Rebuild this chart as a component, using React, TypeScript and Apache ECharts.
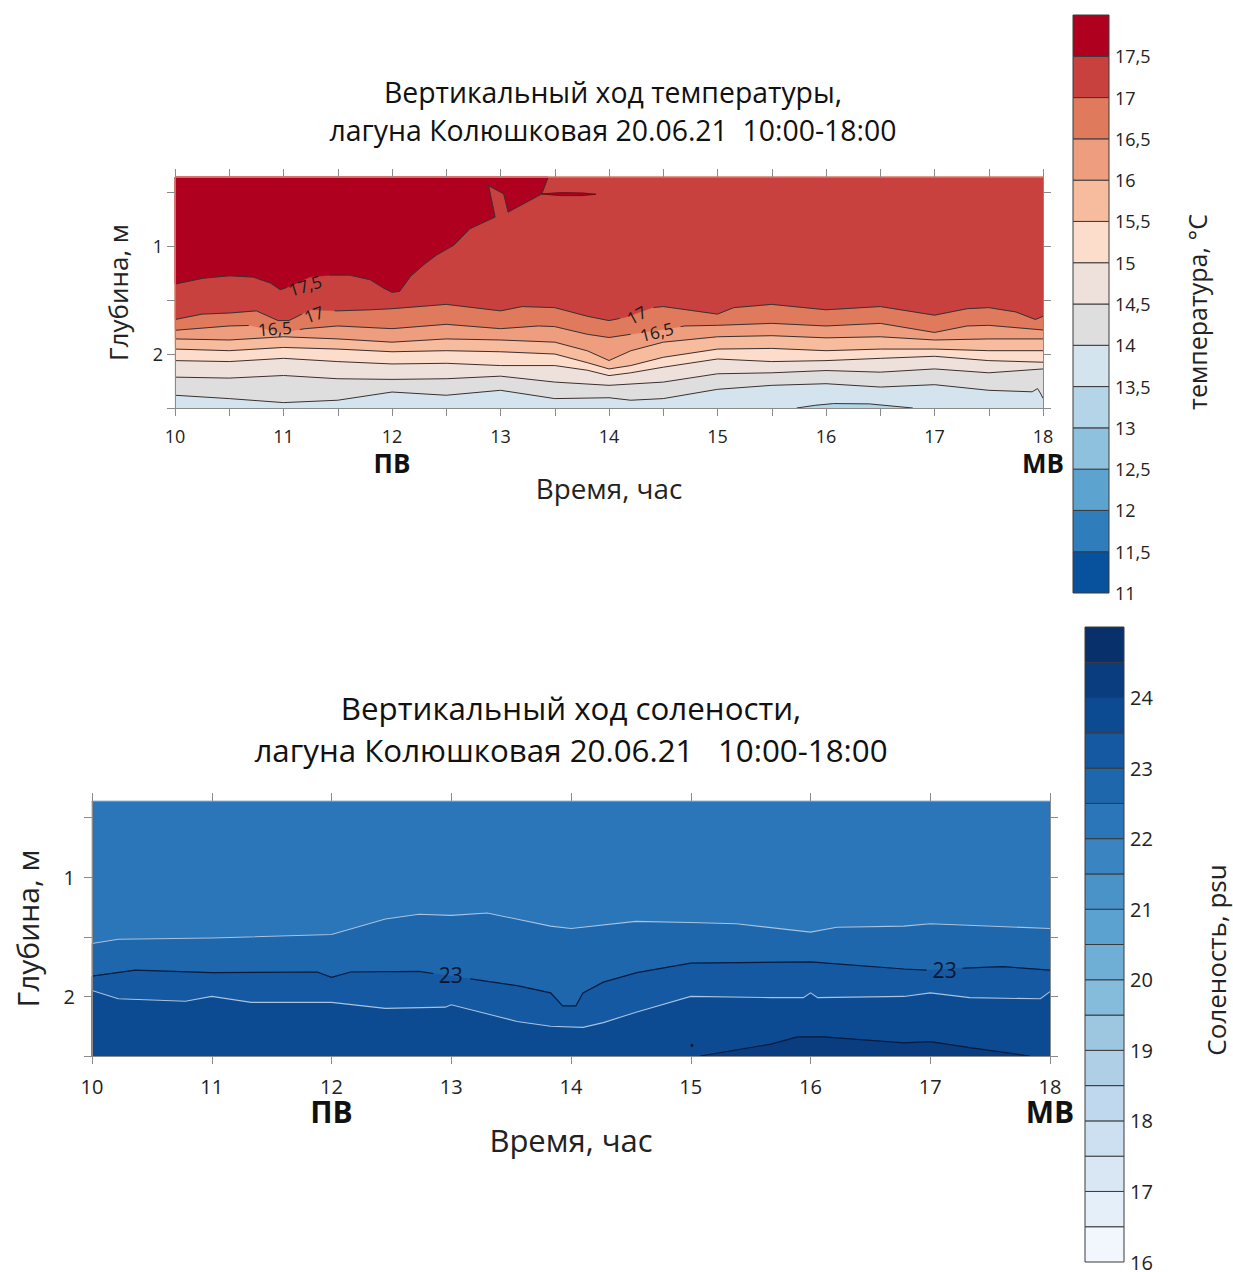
import React, { useEffect, useRef } from 'react';
import * as echarts from 'echarts';

const FONT = '"Open Sans", "Noto Sans", sans-serif';
const GRAY = '#8a8a8a';

// ---- axes values ----
const hourTicksHalf = [10, 10.5, 11, 11.5, 12, 12.5, 13, 13.5, 14, 14.5, 15, 15.5, 16, 16.5, 17, 17.5, 18];
const hourTicksWhole = [10, 11, 12, 13, 14, 15, 16, 17, 18];
const depthTicks = [0.5, 1, 1.5, 2, 2.5];
const depthLabels = [1, 2];
const tideMarks = [12, 18];
const tideNames = ['ПВ', 'МВ'];
const DEPTH_TOP = 0.36;
const DEPTH_BOTTOM = 2.5;

// ---- colour scales ----
const tempLevels = [11, 11.5, 12, 12.5, 13, 13.5, 14, 14.5, 15, 15.5, 16, 16.5, 17, 17.5, 18];
const tempColors = ['#08519C', '#2F7EBB', '#5CA3CF', '#8DC1DD', '#B4D5E8', '#D3E4EF', '#DEDEDE', '#EEE0DA', '#FCDCCA', '#F7BB9D', '#EE9D7F', '#DF7A5C', '#C8413F', '#B0001F'];
const tempBarLabels = [11, 11.5, 12, 12.5, 13, 13.5, 14, 14.5, 15, 15.5, 16, 16.5, 17, 17.5];
const salLevels = [16, 16.5, 17, 17.5, 18, 18.5, 19, 19.5, 20, 20.5, 21, 21.5, 22, 22.5, 23, 23.5, 24, 24.5, 25];
const salColors = ['#F2F7FD', '#E5EFF9', '#D9E7F5', '#CDE0F1', '#C0D8EE', '#AFCFE6', '#9DC7E1', '#85BCDB', '#6FAFD6', '#5CA2D0', '#4A93C9', '#3A85C1', '#2B76B8', '#1F67AD', '#1459A2', '#0C4B92', '#093D80', '#08306B'];
const salBarLabels = [16, 17, 18, 19, 20, 21, 22, 23, 24];

// ---- temperature isolines [hour, depth] ----
const t175 = [[10.0, 1.352], [10.26, 1.297], [10.5, 1.275], [10.72, 1.287], [10.88, 1.342], [10.97, 1.404], [11.06, 1.373], [11.24, 1.287], [11.43, 1.269], [11.61, 1.269], [11.8, 1.312], [11.92, 1.388], [12.0, 1.428], [12.07, 1.419], [12.17, 1.281], [12.29, 1.174], [12.41, 1.083], [12.57, 0.991], [12.72, 0.838], [12.95, 0.731], [12.89, 0.44], [13.03, 0.517], [13.07, 0.685], [13.38, 0.517], [13.44, 0.36]];
const t175Lens = [[13.38, 0.517], [13.55, 0.505], [13.75, 0.508], [13.88, 0.52], [13.75, 0.532], [13.55, 0.532]];
const t17 = [[10, 1.68], [10.25, 1.63], [10.5, 1.62], [10.75, 1.6], [10.95, 1.69], [11.05, 1.69], [11.25, 1.59], [11.5, 1.6], [11.8, 1.59], [12, 1.58], [12.5, 1.54], [13, 1.6], [13.2, 1.56], [13.5, 1.57], [13.8, 1.65], [14, 1.69], [14.15, 1.66], [14.4, 1.57], [14.5, 1.56], [15, 1.63], [15.15, 1.57], [15.5, 1.54], [16, 1.59], [16.5, 1.56], [17, 1.64], [17.3, 1.58], [17.5, 1.57], [17.75, 1.61], [17.93, 1.68], [18, 1.65]];
const t165 = [[10, 1.78], [10.5, 1.74], [10.7, 1.735], [10.97, 1.8], [11.2, 1.765], [11.5, 1.74], [12, 1.765], [12.5, 1.725], [13, 1.765], [13.35, 1.74], [13.5, 1.746], [13.8, 1.817], [14, 1.847], [14.2, 1.817], [14.7, 1.74], [15, 1.734], [15.5, 1.716], [16, 1.74], [16.5, 1.716], [17, 1.8], [17.3, 1.74], [17.5, 1.734], [18, 1.777]];
const t16 = [[10, 1.86], [10.5, 1.87], [11, 1.84], [11.5, 1.86], [12, 1.89], [12.5, 1.86], [13, 1.87], [13.5, 1.89], [13.8, 1.97], [14, 2.06], [14.2, 1.97], [14.5, 1.89], [15, 1.84], [15.5, 1.83], [16, 1.85], [16.5, 1.84], [17, 1.87], [17.5, 1.86], [18, 1.86]];
const t155 = [[10, 1.954], [10.5, 1.969], [11, 1.939], [11.5, 1.954], [12, 1.979], [12.5, 1.969], [13, 1.979], [13.5, 2.0], [13.8, 2.08], [14, 2.138], [14.2, 2.107], [14.5, 2.03], [15, 1.954], [15.5, 1.948], [16, 1.969], [16.5, 1.954], [17, 1.954], [17.5, 1.969], [18, 1.969]];
const t15 = [[10, 2.061], [10.5, 2.07], [11, 2.04], [11.5, 2.07], [12, 2.092], [12.5, 2.086], [13, 2.107], [13.5, 2.107], [13.8, 2.15], [14, 2.2], [14.2, 2.174], [14.5, 2.122], [15, 2.046], [15.5, 2.07], [16, 2.061], [16.5, 2.04], [17, 2.021], [17.5, 2.061], [18, 2.076]];
const t145 = [[10, 2.214], [10.5, 2.223], [11, 2.199], [11.5, 2.229], [12, 2.235], [12.5, 2.229], [13, 2.205], [13.5, 2.26], [14, 2.29], [14.5, 2.26], [15, 2.183], [15.5, 2.174], [16, 2.153], [16.5, 2.168], [17, 2.138], [17.5, 2.174], [18, 2.138]];
const t14 = [[10, 2.382], [10.5, 2.413], [11, 2.45], [11.5, 2.428], [12, 2.352], [12.5, 2.382], [13, 2.336], [13.5, 2.413], [14, 2.405], [14.2, 2.428], [14.5, 2.413], [15, 2.327], [15.5, 2.29], [16, 2.275], [16.5, 2.306], [17, 2.284], [17.5, 2.336], [17.9, 2.35], [17.95, 2.32], [17.98, 2.37], [18, 2.41]];
const t135 = [[15.73, 2.5], [15.9, 2.475], [16.07, 2.459], [16.4, 2.462], [16.8, 2.5]];

const t175Gaps = [[11.03, 11.42]];
const t17Gaps = [[11.17, 11.47], [14.1, 14.41]];
const t165Gaps = [[10.68, 11.15], [14.2, 14.66]];

// label: hour, depth, rotation (rad)
const tempLabelPos = [[11.2, 1.367, 0.3], [11.28, 1.633, 0.35], [10.92, 1.764, 0.08], [14.255, 1.639, 0.5], [14.44, 1.795, 0.25]];
const tempLabelText = ['17,5', '17', '16,5', '17', '16,5'];

// ---- salinity isolines ----
const s225 = [[10, 1.556], [10.22, 1.52], [11, 1.51], [12, 1.48], [12.45, 1.35], [12.73, 1.31], [13, 1.32], [13.3, 1.3], [13.83, 1.41], [14, 1.43], [14.54, 1.37], [15, 1.38], [15.38, 1.39], [16, 1.46], [16.22, 1.42], [16.78, 1.41], [17, 1.39], [18, 1.43]];
const s23 = [[10, 1.83], [10.36, 1.78], [11, 1.8], [11.88, 1.795], [12, 1.84], [12.16, 1.795], [12.73, 1.79], [13, 1.83], [13.55, 1.91], [13.83, 1.97], [13.93, 2.08], [14.04, 2.08], [14.1, 1.97], [14.27, 1.88], [14.55, 1.8], [15, 1.72], [16, 1.71], [16.78, 1.77], [17, 1.78], [17.33, 1.76], [17.61, 1.75], [18, 1.78]];
const s235 = [[10, 1.95], [10.22, 2.02], [10.78, 2.04], [11, 2.0], [11.33, 2.05], [12, 2.05], [12.45, 2.1], [12.95, 2.09], [13, 2.07], [13.55, 2.21], [13.83, 2.25], [14.1, 2.26], [14.27, 2.22], [14.55, 2.13], [15, 2.0], [15.67, 2.01], [15.94, 2.01], [16, 1.97], [16.06, 2.01], [16.78, 2.0], [17, 1.97], [17.33, 2.01], [17.92, 2.02], [18, 1.96]];
const s24 = [[15.08, 2.5], [15.67, 2.4], [15.89, 2.34], [16.11, 2.34], [16.78, 2.39], [17, 2.38], [17.33, 2.43], [17.83, 2.5]];
const s24Dot = [15.01, 2.41];
const s23Gaps = [[12.85, 13.16], [16.97, 17.27]];
const salLabelPos = [[12.995, 1.824, 0], [17.12, 1.782, 0]];
const salLabelText = ['23', '23'];

// ---- helpers ----
const bandAbove = (levels, colors, lvl) => colors[levels.indexOf(lvl)];
const bandBelow = (levels, colors, lvl) => colors[levels.indexOf(lvl) - 1];

function splitByGaps(pts, gaps) {
  const inGap = (x) => gaps.some(([a, b]) => x > a && x < b);
  const segs = [];
  let cur = [];
  for (let i = 0; i < pts.length - 1; i++) {
    const p = pts[i];
    const q = pts[i + 1];
    const ts = [0, 1];
    gaps.forEach(([a, b]) => {
      [a, b].forEach((c) => {
        if ((p[0] - c) * (q[0] - c) < 0) ts.push((c - p[0]) / (q[0] - p[0]));
      });
    });
    ts.sort((u, v) => u - v);
    const lerp = (t) => [p[0] + (q[0] - p[0]) * t, p[1] + (q[1] - p[1]) * t];
    for (let k = 0; k < ts.length - 1; k++) {
      const mid = lerp((ts[k] + ts[k + 1]) / 2);
      if (inGap(mid[0])) {
        if (cur.length > 1) segs.push(cur);
        cur = [];
      } else {
        if (cur.length === 0) cur.push(lerp(ts[k]));
        cur.push(lerp(ts[k + 1]));
      }
    }
  }
  if (cur.length > 1) segs.push(cur);
  return segs;
}

const top = (h) => [h, DEPTH_TOP];
const bot = (h) => [h, DEPTH_BOTTOM];

const tempFills = [
  { pts: [top(10), top(18), bot(18), bot(10)], fill: bandBelow(tempLevels, tempColors, 14) },
  { pts: t135, fill: bandBelow(tempLevels, tempColors, 13.5) },
  { pts: [top(10), ...t14, top(18)], fill: bandAbove(tempLevels, tempColors, 14) },
  { pts: [top(10), ...t145, top(18)], fill: bandAbove(tempLevels, tempColors, 14.5) },
  { pts: [top(10), ...t15, top(18)], fill: bandAbove(tempLevels, tempColors, 15) },
  { pts: [top(10), ...t155, top(18)], fill: bandAbove(tempLevels, tempColors, 15.5) },
  { pts: [top(10), ...t16, top(18)], fill: bandAbove(tempLevels, tempColors, 16) },
  { pts: [top(10), ...t165, top(18)], fill: bandAbove(tempLevels, tempColors, 16.5) },
  { pts: [top(10), ...t17, top(18)], fill: bandAbove(tempLevels, tempColors, 17) },
  { pts: [top(10), ...t175], fill: bandAbove(tempLevels, tempColors, 17.5) },
  { pts: t175Lens, fill: bandAbove(tempLevels, tempColors, 17.5) },
];
const TL = '#3a3030';
const tempLines = [
  { segs: [t135], color: TL, w: 1 },
  { segs: [t14], color: TL, w: 1 },
  { segs: [t145], color: TL, w: 1 },
  { segs: [t15], color: TL, w: 1 },
  { segs: [t155], color: TL, w: 1 },
  { segs: [t16], color: TL, w: 1 },
  { segs: splitByGaps(t165, t165Gaps), color: TL, w: 1 },
  { segs: splitByGaps(t17, t17Gaps), color: TL, w: 1 },
  { segs: splitByGaps(t175, t175Gaps), color: TL, w: 1 },
  { segs: [[...t175Lens, t175Lens[0]]], color: '#5a1010', w: 0.8 },
];

const salFills = [
  { pts: [top(10), top(18), bot(18), bot(10)], fill: bandBelow(salLevels, salColors, 22.5) },
  { pts: [bot(10), ...s225, bot(18)], fill: bandAbove(salLevels, salColors, 22.5) },
  { pts: [bot(10), ...s23, bot(18)], fill: bandAbove(salLevels, salColors, 23) },
  { pts: [bot(10), ...s235, bot(18)], fill: bandAbove(salLevels, salColors, 23.5) },
  { pts: s24, fill: bandAbove(salLevels, salColors, 24) },
];
const SL_LIGHT = '#a9c3e0';
const SL_DARK = '#081a3c';
const salLines = [
  { segs: [s225], color: SL_LIGHT, w: 1.1 },
  { segs: splitByGaps(s23, s23Gaps), color: SL_DARK, w: 1.2 },
  { segs: [s235], color: SL_LIGHT, w: 1.1 },
  { segs: [s24], color: SL_DARK, w: 1.2 },
];

function fillSeries(name, xi, yi, fills) {
  return {
    type: 'custom', name, xAxisIndex: xi, yAxisIndex: yi, z: 1, silent: true,
    data: fills.map(() => [14, 1.5]),
    renderItem: (params, api) => {
      const f = fills[params.dataIndex];
      return { type: 'polygon', shape: { points: f.pts.map((p) => api.coord(p)) }, style: { fill: f.fill, stroke: f.fill, lineWidth: 0.5 } };
    },
  };
}
function lineSeries(name, xi, yi, lines, extra?) {
  return {
    type: 'custom', name, xAxisIndex: xi, yAxisIndex: yi, z: 2, silent: true,
    data: lines.map(() => [14, 1.5]),
    renderItem: (params, api) => {
      const l = lines[params.dataIndex];
      const children = l.segs.map((s) => ({ type: 'polyline', shape: { points: s.map((p) => api.coord(p)) }, style: { stroke: l.color, lineWidth: l.w, fill: 'none' } }));
      if (extra && params.dataIndex === lines.length - 1) {
        const c = api.coord(extra);
        children.push({ type: 'circle', shape: { cx: c[0], cy: c[1], r: 1.6 }, style: { fill: SL_DARK } });
      }
      return { type: 'group', children };
    },
  };
}
function labelSeries(name, xi, yi, pos, texts, size, color) {
  return {
    type: 'custom', name, xAxisIndex: xi, yAxisIndex: yi, z: 3, silent: true,
    data: pos.map((p) => [p[0], p[1]]),
    renderItem: (params, api) => {
      const p = pos[params.dataIndex];
      const c = api.coord([p[0], p[1]]);
      return { type: 'text', x: c[0], y: c[1], rotation: p[2], style: { text: texts[params.dataIndex], fill: color, fontSize: size, fontFamily: FONT, align: 'center', verticalAlign: 'middle' } };
    },
  };
}
function barSeries(name, xi, yi, levels, colors) {
  return {
    type: 'custom', name, xAxisIndex: xi, yAxisIndex: yi, z: 2, silent: true,
    data: colors.map((_, i) => [0.5, levels[i]]),
    renderItem: (params, api) => {
      const i = params.dataIndex;
      const a = api.coord([0, levels[i + 1]]);
      const b = api.coord([1, levels[i]]);
      return { type: 'rect', shape: { x: a[0], y: a[1], width: b[0] - a[0], height: b[1] - a[1] }, style: { fill: colors[i], stroke: '#3a3a3a', lineWidth: 1 } };
    },
  };
}

function frameX(gi, ticks, labels, labelSize, margin, name, nameSize, nameGap) {
  return [
    {
      gridIndex: gi, type: 'value', min: 10, max: 18, position: 'bottom', z: 10,
      axisLine: { show: true, onZero: false, lineStyle: { color: GRAY, width: 1 } },
      axisTick: { show: true, inside: false, length: 8, customValues: ticks, lineStyle: { color: GRAY } },
      axisLabel: { customValues: labels, fontSize: labelSize, lineHeight: labelSize, margin, color: '#222', fontFamily: FONT },
      splitLine: { show: false },
      name, nameLocation: 'middle', nameGap, nameTextStyle: { fontSize: nameSize, fontFamily: FONT, color: '#222' },
    },
    {
      gridIndex: gi, type: 'value', min: 10, max: 18, position: 'top', z: 10,
      axisLine: { show: true, onZero: false, lineStyle: { color: GRAY, width: 1 } },
      axisTick: { show: true, inside: false, length: 8, customValues: ticks, lineStyle: { color: GRAY } },
      axisLabel: { show: false }, splitLine: { show: false },
    },
  ];
}
function tideX(gi, size, margin) {
  return {
    gridIndex: gi, type: 'value', min: 10, max: 18, position: 'bottom',
    axisLine: { show: false, onZero: false }, axisTick: { show: false }, splitLine: { show: false },
    axisLabel: { customValues: tideMarks, formatter: (v) => tideNames[tideMarks.indexOf(v)], fontSize: size, lineHeight: size - 4, fontWeight: 'bold', margin, color: '#111', fontFamily: FONT },
  };
}
function frameY(gi, labelSize, margin, nameSize, nameGap) {
  return [
    {
      gridIndex: gi, type: 'value', inverse: true, min: DEPTH_TOP, max: DEPTH_BOTTOM, position: 'left', z: 10,
      axisLine: { show: true, onZero: false, lineStyle: { color: GRAY, width: 1 } },
      axisTick: { show: true, inside: false, length: 8, customValues: depthTicks, lineStyle: { color: GRAY } },
      axisLabel: { customValues: depthLabels, fontSize: labelSize, margin, color: '#222', fontFamily: FONT },
      splitLine: { show: false },
      name: 'Глубина, м', nameLocation: 'middle', nameGap, nameRotate: 90, nameTextStyle: { fontSize: nameSize, fontFamily: FONT, color: '#222' },
    },
    {
      gridIndex: gi, type: 'value', inverse: true, min: DEPTH_TOP, max: DEPTH_BOTTOM, position: 'right', z: 10,
      axisLine: { show: true, onZero: false, lineStyle: { color: GRAY, width: 1 } },
      axisTick: { show: true, inside: false, length: 8, customValues: depthTicks, lineStyle: { color: GRAY } },
      axisLabel: { show: false }, splitLine: { show: false },
    },
  ];
}
function barY(gi, min, max, labels, size) {
  return {
    gridIndex: gi, type: 'value', min, max, position: 'right',
    axisLine: { show: false }, axisTick: { show: false }, splitLine: { show: false },
    axisLabel: { customValues: labels, formatter: (v) => String(v).replace('.', ','), fontSize: size, lineHeight: size - 4, margin: 6, color: '#222', fontFamily: FONT },
  };
}
const hiddenX = (gi) => ({ gridIndex: gi, type: 'value', min: 0, max: 1, show: false });

export default function App() {
  const ref = useRef(null);
  useEffect(() => {
    document.body.style.margin = '0';
    const chart = echarts.init(ref.current, null, { renderer: 'svg' });
    const option = {
      animation: false,
      backgroundColor: '#ffffff',
      title: [
        { text: 'Вертикальный ход температуры,\nлагуна Колюшковая 20.06.21  10:00-18:00', left: 613, top: 73, textAlign: 'center', padding: 0, textStyle: { fontFamily: FONT, fontSize: 28.4, fontWeight: 'normal', color: '#111', lineHeight: 38 } },
        { text: 'Вертикальный ход солености,\nлагуна Колюшковая 20.06.21   10:00-18:00', left: 571, top: 687, textAlign: 'center', padding: 0, textStyle: { fontFamily: FONT, fontSize: 31.3, fontWeight: 'normal', color: '#111', lineHeight: 42 } },
      ],
      graphic: [
        { type: 'text', x: 1197, y: 312, rotation: Math.PI / 2, style: { text: 'температура, °C', fill: '#222', fontSize: 25, lineHeight: 25, fontFamily: FONT, align: 'center', verticalAlign: 'middle' } },
        { type: 'text', x: 1216, y: 960, rotation: Math.PI / 2, style: { text: 'Соленость, psu', fill: '#222', fontSize: 26, lineHeight: 22, fontFamily: FONT, align: 'center', verticalAlign: 'middle' } },
      ],
      grid: [
        { left: 175, top: 177, width: 868, height: 231 },
        { left: 92, top: 801, width: 958, height: 255 },
        { left: 1073, top: 15, width: 36, height: 578 },
        { left: 1085, top: 627, width: 39, height: 636 },
      ],
      xAxis: [
        ...frameX(0, hourTicksHalf, hourTicksWhole, 18, 19, 'Время, час', 27.8, 66),
        tideX(0, 26, 44),
        ...frameX(1, hourTicksWhole, hourTicksWhole, 20, 20, 'Время, час', 31, 68),
        tideX(1, 30, 42),
        hiddenX(2),
        hiddenX(3),
      ],
      yAxis: [
        ...frameY(0, 18, 12, 26, 44),
        ...frameY(1, 20, 17, 30, 50),
        barY(2, 11, 18, tempBarLabels, 18),
        barY(3, 16, 25, salBarLabels, 20),
      ],
      series: [
        fillSeries('tempFill', 0, 0, tempFills),
        lineSeries('tempLines', 0, 0, tempLines),
        labelSeries('tempLabels', 0, 0, tempLabelPos, tempLabelText, 17, '#1a1a1a'),
        fillSeries('salFill', 3, 2, salFills),
        lineSeries('salLines', 3, 2, salLines, s24Dot),
        labelSeries('salLabels', 3, 2, salLabelPos, salLabelText, 21, '#0a1530'),
        barSeries('tempBar', 6, 4, tempLevels, tempColors),
        barSeries('salBar', 7, 5, salLevels, salColors),
      ],
    };
    chart.setOption(option);
    return () => chart.dispose();
  }, []);
  return <div ref={ref} style={{ width: 1233, height: 1272 }} />;
}
